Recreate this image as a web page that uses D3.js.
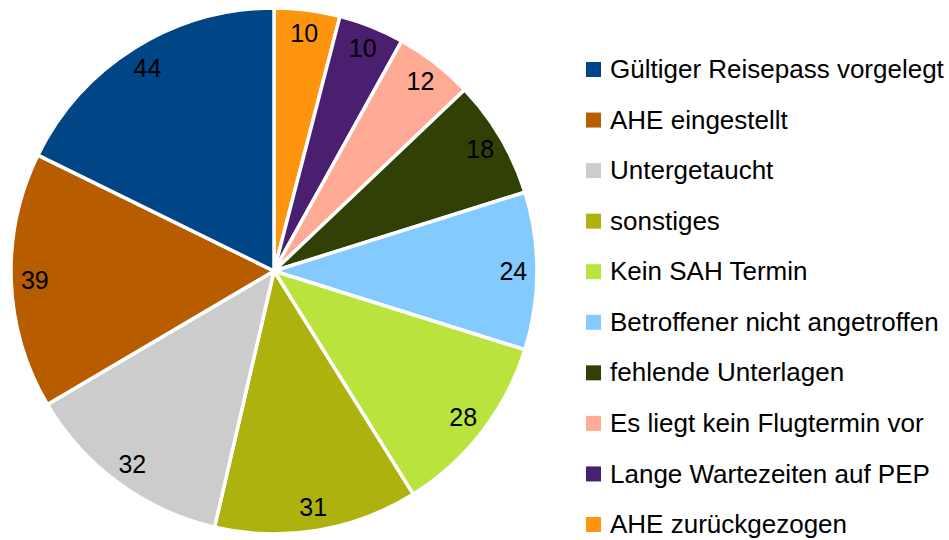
<!DOCTYPE html>
<html lang="en">
<head>
    <meta charset="utf-8">
    <script src="https://d3js.org/d3.v7.min.js"></script>
    <style>
        body { margin: 0; background: #fff; }
        text { font-family: "Liberation Sans", Arial, sans-serif; }
    </style>
</head>
<body>
    <svg></svg>
    <script>
        // categories in legend order
        const categories = [
            'Gültiger Reisepass vorgelegt',
            'AHE eingestellt',
            'Untergetaucht',
            'sonstiges',
            'Kein SAH Termin',
            'Betroffener nicht angetroffen',
            'fehlende Unterlagen',
            'Es liegt kein Flugtermin vor',
            'Lange Wartezeiten auf PEP',
            'AHE zurückgezogen'
        ]
        const values = [44, 39, 32, 31, 28, 24, 18, 12, 10, 10]
        const colors = ['#004586', '#b85c00', '#cccccc', '#adb20e', '#bbe33d',
                        '#83caff', '#314004', '#ffaa95', '#4b1f6f', '#ff950e']

        const W = 949, H = 540
        const cx = 274, cy = 271, R = 263

        const svg = d3.select('svg')
            .attr('width', W)
            .attr('height', H)

        const data = categories.map((c, i) => ({ name: c, value: values[i], color: colors[i] }))
        // drawn clockwise from 12 o'clock in reverse legend order
        const pie = d3.pie()
            .sort(null)
            .value(d => d.value)
        const arcs = pie(data.slice().reverse())

        const arc = d3.arc().innerRadius(0).outerRadius(R)
        const labelArc = d3.arc().innerRadius(R * 0.91).outerRadius(R * 0.91)

        const g = svg.append('g').attr('transform', `translate(${cx},${cy})`)

        g.selectAll('path')
            .data(arcs)
            .enter()
            .append('path')
            .attr('d', arc)
            .attr('fill', d => d.data.color)
            .attr('stroke', 'white')
            .attr('stroke-width', 3.5)
            .attr('stroke-linejoin', 'round')

        g.selectAll('text.lbl')
            .data(arcs)
            .enter()
            .append('text')
            .attr('class', 'lbl')
            .attr('transform', d => `translate(${labelArc.centroid(d)})`)
            .attr('text-anchor', 'middle')
            .attr('dy', '0.35em')
            .attr('font-size', 25)
            .attr('fill', '#000')
            .text(d => d.data.value)

        const legY = d3.scalePoint()
            .domain(categories)
            .range([69, 524])

        const leg = svg.append('g')
            .selectAll('g')
            .data(data)
            .enter()
            .append('g')
            .attr('transform', d => `translate(586,${legY(d.name)})`)

        leg.append('rect')
            .attr('x', 0)
            .attr('y', -7)
            .attr('width', 15)
            .attr('height', 15)
            .attr('fill', d => d.color)

        leg.append('text')
            .attr('x', 24)
            .attr('dy', '0.35em')
            .attr('font-size', 26)
            .attr('fill', '#000')
            .text(d => d.name)
    </script>
</body>
</html>
